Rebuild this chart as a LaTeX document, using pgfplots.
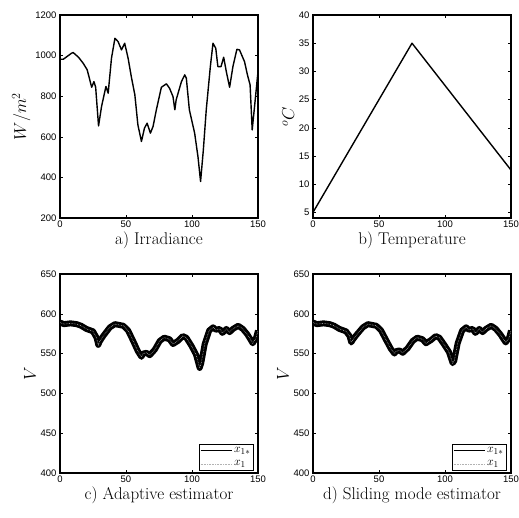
\documentclass[border=0pt]{standalone}
\usepackage{pgfplots}
\pgfplotsset{compat=1.18}
\usepackage{fontspec}
\newfontfamily\tickfont{Liberation Sans}

\pgfplotsset{
  panel/.style={
    scale only axis, width=198pt, height=203pt,
    xmin=0, xmax=150, xtick={0,50,100,150},
    axis line style={line width=1.1pt},
    tick style={black, line width=0.5pt}, major tick length=3pt, tick align=inside,
    ticklabel style={font=\tickfont\fontsize{9.5}{10}\selectfont},
    /pgf/number format/assume math mode=true,
    /pgf/number format/set thousands separator={},
    xticklabel style={yshift=1pt},
    xlabel style={font=\fontsize{17}{18}\selectfont, yshift=2pt},
    ylabel style={font=\fontsize{17}{18}\selectfont, yshift=-2pt},
  },
  volt/.style={
    panel, height=199pt, ymin=400, ymax=650, ytick={400,450,...,650}, ylabel={$V$},
  },
}
\pgfplotsset{
  legend style={at={(0.98,0.01)}, anchor=south east, draw=black, line width=1.1pt,
    font=\fontsize{13}{13}\selectfont, inner sep=1pt, row sep=3pt,
    legend cell align=left},
  legend image code/.code={\draw[#1, line width=0.8pt] (0pt,0pt) -- (31pt,0pt);},
}

\pgfplotstableread{
t     y
0     982
2.5   982
8.8   1012
10    1015
14    992
17.6  962
20.6  930
24    844
25.7  872
27    845
29.2  654
31.5  750
34.8  848
36.5  815
39    987
41.6  1085
44    1069
46.6  1028
49    1061
51.6  987
54    897
56.7  807
59    659
61.7  577
64    643
66    667
68.5  618
70.5  651
73    733
76.8  844
80.6  861
83    839
85.6  798
87    733
88    782
92    872
94.5  905
95.7  889
98    733
102   618
104.5 503
106.5 380
108.6 536
110.8 733
113.9 946
115.9 1061
118   1036
119.6 946
122   946
124   992
126   921
128.5 844
131   946
134   1031
136   1028
139.8 970
142   905
144   856
145.6 634
147.4 750
150   921
}\irr

\pgfplotstableread{
t     v
0     589
3     587
8     588
12.6  587
16    585
20    581
25    578
27.7  570
29    561
30    565
32.7  572
37.8  583
41.6  587
47.9  585
51.6  579
55.4  566
59    553
61.7  546
63    550
65.5  551
68    548
71.8  555
75.6  566
79    570
83    568
85.6  562
89.4  566
93    572
95.7  570
99.5  560
103   549
105.8 532
107   538
109.6 562
113   579
116   583
118   580
121   581
123   576
126   581
128.5 577
131   581
135   585
138.5 581
142   574
146   563
148.6 570
150   579
}\adap

\pgfplotstableread{
t     v
0     589
3     587
8     588
12.6  587
16    585
20    581
25    578
27.7  572
29    564
30    567
32.7  573
37.8  583
41.6  587
47.9  585
51.6  579
55.4  567
59    556
61.7  550
63    553
65.5  554
68    551
71.8  557
75.6  566
79    570
83    568
85.6  563
89.4  567
93    572
95.7  570
99.5  561
103   552
105.8 538
107   541
109.6 563
113   579
116   583
118   580
121   581
123   576
126   581
128.5 577
131   581
135   585
138.5 581
142   574
146   564
148.6 570
150   579
}\slid

\begin{document}
\begin{tikzpicture}[x=1pt,y=1pt]
\useasboundingbox (0pt,0pt) rectangle (519pt,517pt);
\begin{axis}[panel, at={(60pt,299pt)}, anchor=south west,
  ymin=200, ymax=1200, ytick={200,400,...,1200},
  ylabel={$W/m^2$}, xlabel={a) Irradiance}]
\addplot[black, no marks, line width=1.4pt, line join=round] table[x=t,y=y] {\irr};
\end{axis}

\begin{axis}[panel, at={(313pt,299pt)}, anchor=south west,
  ymin=4, ymax=40, ytick={5,10,...,40},
  ylabel={$^{o}C$}, xlabel={b) Temperature}]
\addplot[black, no marks, line width=1.4pt, line join=round] coordinates {(0,5) (75,35) (150,12.5)};
\end{axis}

\begin{axis}[volt, at={(60pt,44pt)}, anchor=south west,
  xlabel={c) Adaptive estimator}]
\addplot[black, no marks, line width=6pt, line join=round] table[x=t,y=v] {\adap};
\addlegendentry{$x_{1*}$}
\addplot[gray!60, no marks, densely dotted, line width=0.6pt] table[x=t,y=v] {\adap};
\addlegendentry{$x_{1}$}
\end{axis}

\begin{axis}[volt, at={(313pt,44pt)}, anchor=south west,
  xlabel={d) Sliding mode estimator}]
\addplot[black, no marks, line width=6pt, line join=round] table[x=t,y=v] {\slid};
\addlegendentry{$x_{1*}$}
\addplot[gray!60, no marks, densely dotted, line width=0.6pt] table[x=t,y=v] {\slid};
\addlegendentry{$x_{1}$}
\end{axis}
\end{tikzpicture}
\end{document}
